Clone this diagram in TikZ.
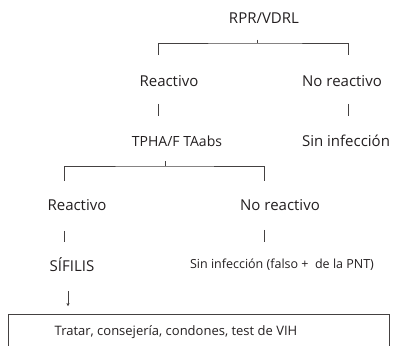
\documentclass[tikz,border=0pt]{standalone}
\usepackage{fontspec}
\setmainfont{Open Sans}
\usepackage{tikz}
\usetikzlibrary{arrows.meta}
\definecolor{ink}{HTML}{231F20}
\tikzset{
  lbl/.style={text=ink, font=\fontsize{15}{17}\selectfont, inner sep=0pt},
  small/.style={text=ink, font=\fontsize{12.5}{14}\selectfont, inner sep=0pt},
  ln/.style={draw=ink!85, line width=0.8pt}
}
\begin{document}
\begin{tikzpicture}[x=1pt,y=-1pt]
\useasboundingbox (0,0) rectangle (397,346);
% first test
\node[lbl] (rpr) at (264,18) {RPR/VDRL};
\node[lbl] (rea) at (169,81) {Reactivo};
\node[lbl] (nre) at (342,81) {No reactivo};
\node[lbl, font=\fontsize{14}{16}\selectfont] (tpha) at (177,141) {TPHA/F TAabs};
\node[lbl] (sin) at (346,141) {Sin infección};
% second test
\node[lbl] (reb) at (77,205) {Reactivo};
\node[lbl] (nrb) at (280,205) {No reactivo};
\node[lbl] (sif) at (72,265) {SÍFILIS};
\node[small] (fal) at (282,265) {Sin infección (falso +\ \ de la PNT)};
\node[draw=ink!85, line width=0.8pt, minimum width=381pt, minimum height=60pt, anchor=north west] (trat) at (7.5,314) {};
\node[lbl, font=\fontsize{13}{15}\selectfont] (tratx) at (176,332) {Tratar, consejería, condones, test de VIH};
% brackets
\coordinate (b1) at (257,43);
\coordinate (b2) at (165,166);
\coordinate (tip) at (68,306);
\draw[ln] (b1) ++(0,-3.5) -- (b1);
\draw[ln] (158,55) |- (b1) -| (348,55);
\draw[ln] (b2) ++(0,-5) -- (b2);
\draw[ln] (64,181) |- (b2) -| (264,181);
\draw[ln] (rea.south -| 158,0) ++(0,17) -- ++(0,12);
\draw[ln] (nre.south -| 348,0) ++(0,17) -- ++(0,12);
\draw[ln] (reb.south -| 64,0) ++(0,20) -- ++(0,11);
\draw[ln] (nrb.south -| 264,0) ++(0,19) -- ++(0,12);
\draw[ln, -{To[length=3pt,width=3pt]}] (sif.south -| tip) ++(0,19) -- (tip);
\end{tikzpicture}
\end{document}
